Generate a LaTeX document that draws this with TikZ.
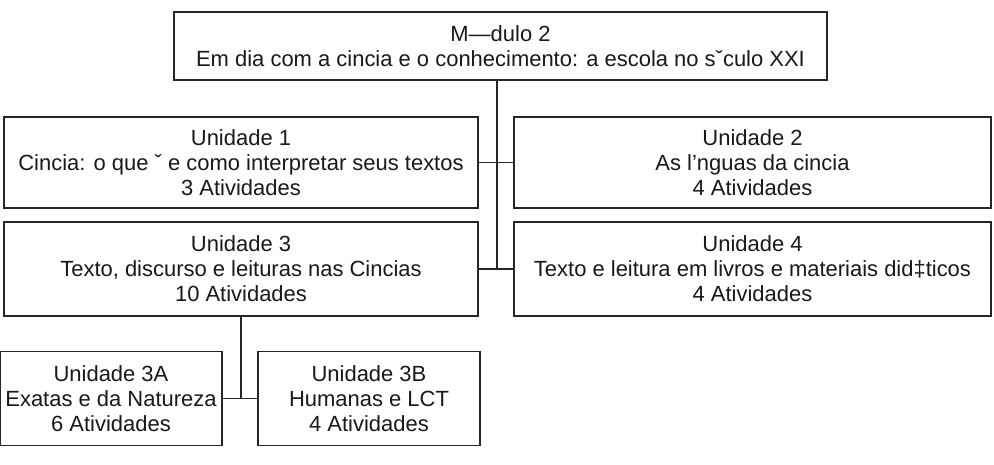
\documentclass[tikz,border=0pt]{standalone}
\usepackage{fontspec}
\setmainfont{Liberation Sans}
\usetikzlibrary{positioning}
\tikzset{
  unitbox/.style={draw=black!85, line width=0.8pt, fill=white, align=center, inner sep=1pt},
  link/.style={draw=black!85, line width=0.8pt}
}

\begin{document}
\begin{tikzpicture}[every node/.style={font=\fontsize{12.5pt}{14.2pt}\selectfont, text=black!90}]
  \useasboundingbox (0,0) rectangle (19.88,-9.3);
  \node[unitbox, minimum width=13.06cm, minimum height=1.36cm] (modulo) at (10.01,-0.92)
    {M—dulo 2\\Em dia com a cincia e o conhecimento: a escola no sˇculo XXI};
  \node[unitbox, minimum width=9.48cm, minimum height=1.82cm] (u1) at (4.82,-3.25)
    {Unidade 1\\Cincia: o que ˇ e como interpretar seus textos\\3 Atividades};
  \node[unitbox, minimum width=9.54cm, minimum height=1.82cm] (u2) at (15.05,-3.25)
    {Unidade 2\\As l’nguas da cincia\\4 Atividades};
  \node[unitbox, minimum width=9.48cm, minimum height=1.88cm] (u3) at (4.82,-5.38)
    {Unidade 3\\Texto, discurso e leituras nas Cincias\\10 Atividades};
  \node[unitbox, minimum width=9.54cm, minimum height=1.88cm] (u4) at (15.05,-5.38)
    {Unidade 4\\Texto e leitura em livros e materiais did‡ticos\\4 Atividades};
  \node[unitbox, minimum width=4.44cm, minimum height=1.88cm] (u3a) at (2.22,-7.97)
    {Unidade 3A\\Exatas e da Natureza\\6 Atividades};
  \node[unitbox, minimum width=4.44cm, minimum height=1.88cm] (u3b) at (7.38,-7.97)
    {Unidade 3B\\Humanas e LCT\\4 Atividades};
  % tronco principal
  \coordinate (trunk) at (9.94,-5.38);
  \draw[link] (trunk |- modulo.south) -- (trunk);
  \draw[link] (u1.east) -- (u2.west);
  \draw[link] (u3.east) -- (u4.west);
  % ramo da unidade 3
  \draw[link] (u3.south) -- (u3.south |- u3a.east);
  \draw[link] (u3a.east) -- (u3b.west);
\end{tikzpicture}
\end{document}
